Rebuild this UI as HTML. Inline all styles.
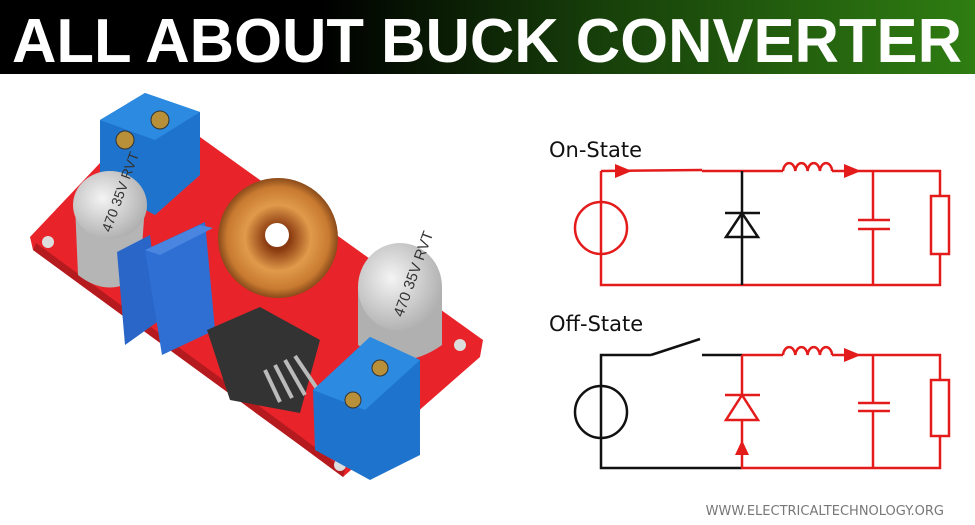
<!DOCTYPE html>
<html><head><meta charset="utf-8"><style>
html,body{margin:0;padding:0;background:#fff;}
svg{display:block}
</style></head><body>
<svg width="975" height="525" viewBox="0 0 975 525" xmlns="http://www.w3.org/2000/svg">
<defs>
<linearGradient id="hg" x1="0" x2="1" y1="0" y2="0">
<stop offset="0" stop-color="#000"/><stop offset="0.33" stop-color="#000"/><stop offset="0.62" stop-color="#17400a"/><stop offset="1" stop-color="#2f7d12"/>
</linearGradient>
<radialGradient id="cap" cx="0.4" cy="0.4" r="0.7"><stop offset="0" stop-color="#f4f4f4"/><stop offset="1" stop-color="#a8a8a8"/></radialGradient>
<radialGradient id="tor" cx="0.5" cy="0.5" r="0.5"><stop offset="0.2" stop-color="#8a3a10"/><stop offset="0.55" stop-color="#e09a4a"/><stop offset="0.85" stop-color="#c87a30"/><stop offset="1" stop-color="#8a4a1a"/></radialGradient>
</defs>
<rect x="0" y="0" width="975" height="74" fill="url(#hg)"/>
<text x="12" y="62" font-family="Liberation Sans, sans-serif" font-weight="bold" font-size="62" fill="#fff" textLength="950" lengthAdjust="spacingAndGlyphs">ALL ABOUT BUCK CONVERTER</text>

<!-- PCB -->
<polygon points="100,163 200,137 483,340 480,357 343,477 297,443 33,250 30,237" fill="#e8242a"/>
<polygon points="33,250 297,443 343,477 345,470 300,436 36,243" fill="#b51a1e"/>
<circle cx="48" cy="242" r="6" fill="#ddd"/><circle cx="460" cy="345" r="6" fill="#ddd"/><circle cx="340" cy="465" r="6" fill="#ddd"/>
<!-- top terminal -->
<polygon points="100,120 145,93 200,112 200,175 155,215 100,185" fill="#1e74cc"/>
<polygon points="100,120 145,93 200,112 155,140" fill="#2c8ae0"/>
<circle cx="125" cy="140" r="9" fill="#b8903a" stroke="#333"/>
<circle cx="160" cy="120" r="9" fill="#b8903a" stroke="#333"/>
<!-- left cap -->
<path d="M75,205 L78,275 Q110,300 140,275 L145,205 Z" fill="#b5b5b5"/>
<ellipse cx="110" cy="205" rx="37" ry="34" fill="url(#cap)"/>
<text x="84" y="215" font-family="Liberation Sans, sans-serif" font-size="14" fill="#333" transform="rotate(-70 110 205)">470 35V RVT</text>
<!-- pots -->
<polygon points="117,252 150,235 160,320 125,345" fill="#2a66c8"/>
<polygon points="145,250 205,222 215,330 162,355" fill="#2f6fd4"/>
<polygon points="145,250 200,225 213,228 160,255" fill="#4a86e0"/>
<!-- toroid -->
<circle cx="278" cy="238" r="60" fill="url(#tor)"/>
<circle cx="277" cy="235" r="12" fill="#fff"/>
<!-- IC -->
<polygon points="207,330 260,307 320,340 300,413 230,400" fill="#333"/>
<g stroke="#bbb" stroke-width="4"><line x1="285" y1="360" x2="305" y2="395"/><line x1="275" y1="365" x2="292" y2="398"/><line x1="265" y1="370" x2="280" y2="402"/><line x1="295" y1="356" x2="318" y2="390"/></g>
<!-- right cap -->
<path d="M358,287 L358,345 Q400,375 442,345 L442,287 Z" fill="#b0b0b0"/>
<ellipse cx="400" cy="287" rx="42" ry="44" fill="url(#cap)"/>
<text x="372" y="300" font-family="Liberation Sans, sans-serif" font-size="15" fill="#333" transform="rotate(-70 400 287)">470 35V RVT</text>
<!-- bottom terminal -->
<polygon points="313,390 370,337 420,360 420,455 370,480 315,450" fill="#1e74cc"/>
<polygon points="313,390 370,337 420,360 365,410" fill="#2c8ae0"/>
<circle cx="380" cy="368" r="8" fill="#b8903a" stroke="#333"/>
<circle cx="353" cy="400" r="8" fill="#b8903a" stroke="#333"/>

<!-- Circuits -->
<g font-family="DejaVu Sans, sans-serif" font-size="21" fill="#111">
<text x="549" y="157">On-State</text>
<text x="549" y="331">Off-State</text>
</g>
<g fill="none" stroke-width="2.5">
<g stroke="#e41b1b">
<polyline points="601,171 601,285 940,285 940,171 832,171"/>
<line x1="601" y1="171" x2="702" y2="170"/>
<line x1="702" y1="171" x2="783" y2="171"/>
<path d="M783,171 a6.2,9 0 0 1 12.3,0 a6.2,9 0 0 1 12.3,0 a6.2,9 0 0 1 12.3,0 a6.2,9 0 0 1 12.3,0"/>
<circle cx="601" cy="228" r="26"/>
<line x1="873" y1="171" x2="873" y2="220"/><line x1="873" y1="229" x2="873" y2="285"/>
<line x1="858" y1="220" x2="890" y2="220"/><line x1="858" y1="229" x2="890" y2="229"/>
<rect x="931" y="196" width="18" height="58" fill="#fff"/>
</g>
<g stroke="#111">
<line x1="742" y1="171" x2="742" y2="285"/>
<line x1="725" y1="213" x2="760" y2="213"/>
<polygon points="742,213 726,237 758,237"/>
</g>
<g stroke="#111">
<polyline points="742,355 702,355"/>
<polyline points="651,355 601,355 601,468 742,468"/>
<line x1="651" y1="355" x2="700" y2="339"/>
<circle cx="601" cy="412" r="26"/>
</g>
<g stroke="#e41b1b">
<polyline points="742,355 783,355"/>
<path d="M783,355 a6.2,9 0 0 1 12.3,0 a6.2,9 0 0 1 12.3,0 a6.2,9 0 0 1 12.3,0 a6.2,9 0 0 1 12.3,0"/>
<polyline points="832,355 940,355 940,468 742,468 742,355"/>
<line x1="725" y1="395" x2="760" y2="395"/>
<polygon points="742,395 726,420 758,420" fill="#fff"/>
<line x1="873" y1="355" x2="873" y2="403"/><line x1="873" y1="411" x2="873" y2="468"/>
<line x1="858" y1="403" x2="890" y2="403"/><line x1="858" y1="411" x2="890" y2="411"/>
<rect x="931" y="380" width="18" height="56" fill="#fff"/>
</g>
</g>
<g fill="#e41b1b">
<polygon points="615,164 632,171 615,178"/>
<polygon points="844,164 861,171 844,178"/>
<polygon points="844,348 861,355 844,362"/>
<polygon points="735,455 742,440 749,455"/>
</g>
<text x="944" y="515" text-anchor="end" font-family="DejaVu Sans, sans-serif" font-size="13" fill="#777">WWW.ELECTRICALTECHNOLOGY.ORG</text>
</svg>
</body></html>
